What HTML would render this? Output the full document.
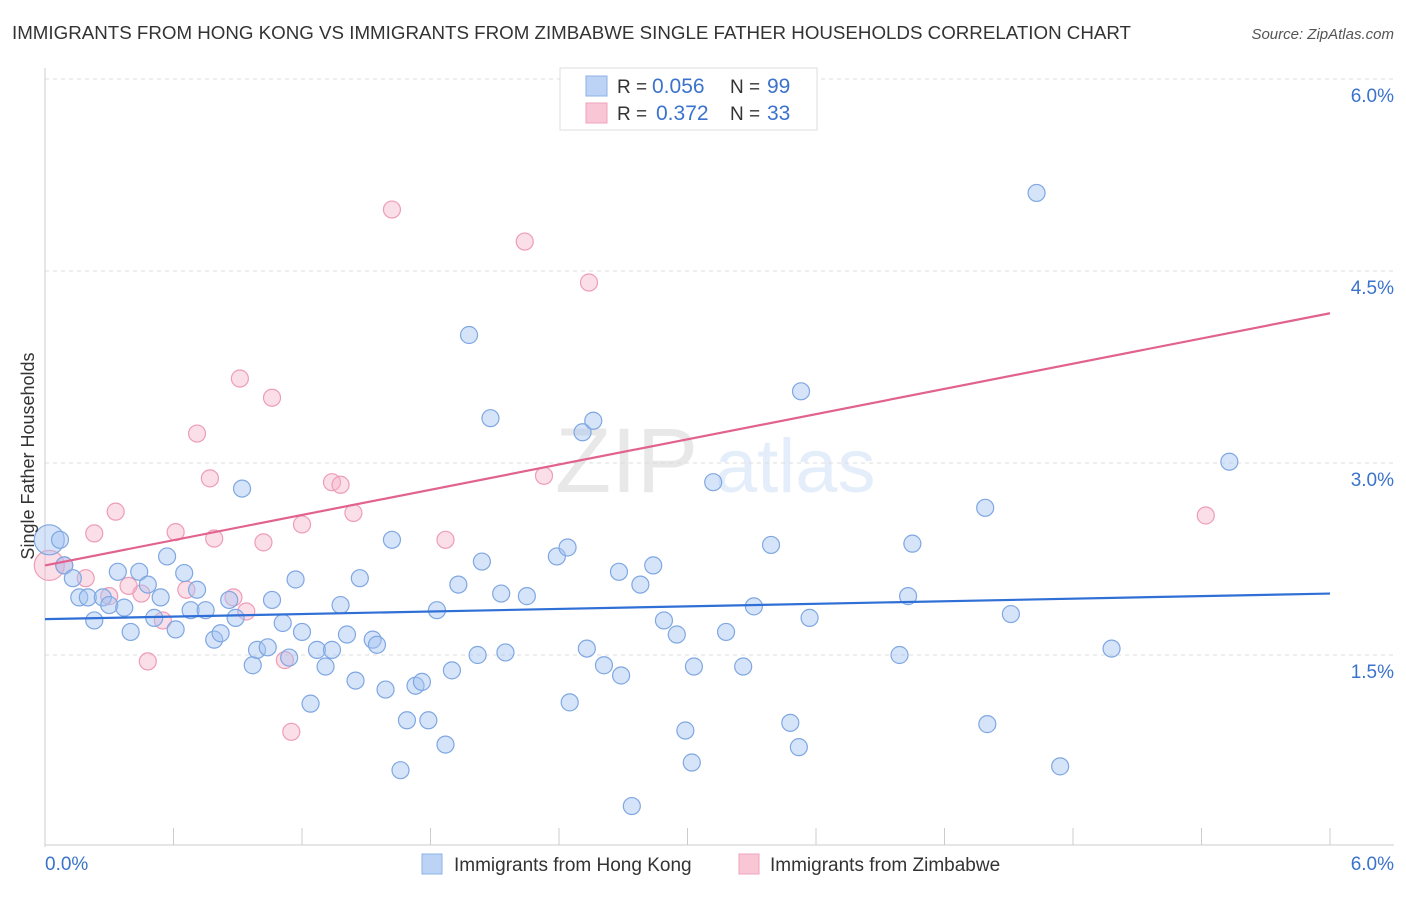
<!DOCTYPE html>
<html><head><meta charset="utf-8"><style>
body{margin:0;background:#fff;font-family:"Liberation Sans",sans-serif;}
svg text{font-family:"Liberation Sans",sans-serif;}
</style></head><body>
<svg id="chart" width="1406" height="892" xmlns="http://www.w3.org/2000/svg">
<text x="12" y="39" font-size="18" fill="#333" textLength="1119" lengthAdjust="spacingAndGlyphs">IMMIGRANTS FROM HONG KONG VS IMMIGRANTS FROM ZIMBABWE SINGLE FATHER HOUSEHOLDS CORRELATION CHART</text>
<text x="1394" y="39" font-size="15" fill="#555" font-style="italic" text-anchor="end">Source: ZipAtlas.com</text>
<g opacity="0.13">
<text x="555" y="492" font-size="92" font-family="Liberation Serif" fill="#555">ZIP</text>
<text x="715" y="492" font-size="76" fill="#3b7ddd">atlas</text>
</g>
<g id="grid"></g>
<g id="axes"></g>
<g id="pts"></g>
<g id="trends"></g>
<g>
<rect x="560" y="68" width="257" height="62" fill="#fff" stroke="#ddd"/>
<rect x="586" y="76" width="21" height="20" fill="#bcd3f5" stroke="#8db0e8"/>
<rect x="586" y="103" width="21" height="20" fill="#f9c6d6" stroke="#f0a3bd"/>
<text x="617" y="93" font-size="19" fill="#333">R =</text>
<text x="652" y="93" font-size="21" fill="#3b73cc">0.056</text>
<text x="730" y="93" font-size="19" fill="#333">N =</text>
<text x="767" y="93" font-size="21" fill="#3b73cc">99</text>
<text x="617" y="120" font-size="19" fill="#333">R =</text>
<text x="656" y="120" font-size="21" fill="#3b73cc">0.372</text>
<text x="730" y="120" font-size="19" fill="#333">N =</text>
<text x="767" y="120" font-size="21" fill="#3b73cc">33</text>
</g>
<g>
<rect x="422" y="854" width="20" height="20" fill="#bcd3f5" stroke="#8db0e8"/>
<text x="454" y="871" font-size="19" fill="#333">Immigrants from Hong Kong</text>
<rect x="739" y="854" width="20" height="20" fill="#f9c6d6" stroke="#f0a3bd"/>
<text x="770" y="871" font-size="19" fill="#333">Immigrants from Zimbabwe</text>
</g>
<text transform="translate(34,456) rotate(-90)" font-size="18" fill="#333" text-anchor="middle">Single Father Households</text>
</svg>
<script>
const yTicks=[1.5,3.0,4.5,6.0];
const yTickLabels=["1.5%","3.0%","4.5%","6.0%"];
const xEndLabels=["0.0%","6.0%"];
const blueX=[.02,.07,.09,.13,.16,.20,.23,.27,.30,.34,.37,.40,.44,.48,.51,.54,.57,.61,.65,.68,.71,.75,.79,.82,.86,.89,.92,.97,.99,1.04,1.06,1.11,1.14,1.17,1.20,1.24,1.27,1.31,1.34,1.38,1.41,1.45,1.47,1.53,1.55,1.59,1.62,1.66,1.69,1.73,1.76,1.79,1.83,1.87,1.90,1.93,1.98,2.02,2.04,2.08,2.13,2.15,2.25,2.39,2.44,2.45,2.51,2.53,2.56,2.61,2.68,2.69,2.74,2.78,2.84,2.89,2.95,2.99,3.02,3.03,3.12,3.18,3.26,3.31,3.39,3.48,3.52,3.53,3.57,3.99,4.03,4.05,4.39,4.40,4.51,4.63,4.74,4.98,5.53];
const blueY=[2.40,2.40,2.20,2.10,1.95,1.95,1.77,1.95,1.89,2.15,1.87,1.68,2.15,2.05,1.79,1.95,2.27,1.70,2.14,1.85,2.01,1.85,1.62,1.67,1.93,1.79,2.80,1.42,1.54,1.56,1.93,1.75,1.48,2.09,1.68,1.12,1.54,1.41,1.54,1.89,1.66,1.30,2.10,1.62,1.58,1.23,2.40,0.60,0.99,1.26,1.29,0.99,1.85,0.80,1.38,2.05,4.00,1.50,2.23,3.35,1.98,1.52,1.96,2.27,2.34,1.13,3.24,1.55,3.33,1.42,2.15,1.34,0.32,2.05,2.20,1.77,1.66,0.91,0.66,1.41,2.85,1.68,1.41,1.88,2.36,0.97,0.78,3.56,1.79,1.50,1.96,2.37,2.65,0.96,1.82,5.11,0.63,1.55,3.01];
const pinkX=[.02,.09,.19,.23,.30,.33,.39,.45,.48,.55,.61,.66,.71,.77,.79,.88,.91,.94,1.02,1.06,1.12,1.15,1.20,1.34,1.38,1.44,1.62,1.87,2.24,2.33,2.54,5.42];
const pinkY=[2.20,2.20,2.10,2.45,1.96,2.62,2.04,1.98,1.45,1.77,2.46,2.01,3.23,2.88,2.41,1.95,3.66,1.84,2.38,3.51,1.46,0.90,2.52,2.85,2.83,2.61,4.98,2.40,4.73,2.90,4.41,2.59];
const blueTrend=[1.78,1.98];
const pinkTrend=[2.20,4.17];
const NS="http://www.w3.org/2000/svg";
const X0=45,X1=1330,Y0=847,PX=128;
const sx=v=>X0+(X1-X0)*v/6;
const sy=v=>Y0-v*PX;
function mk(t,a,p){const e=document.createElementNS(NS,t);for(const k in a)e.setAttribute(k,a[k]);p.appendChild(e);return e;}
const grid=document.getElementById('grid'),axes=document.getElementById('axes'),pts=document.getElementById('pts'),tr=document.getElementById('trends');
yTicks.forEach((t,i)=>{
 const l=mk('line',{x1:X0,x2:1394,y1:sy(t),y2:sy(t),stroke:'#ddd','stroke-dasharray':'4,4'},grid);
 
 
 const tx=mk('text',{x:1394,y:sy(t)+23,'font-size':19,fill:'#3b73cc','text-anchor':'end'},axes);
 tx.textContent=yTickLabels[i];
 
 
});
mk('line',{x1:X0,x2:X0,y1:68,y2:Y0,stroke:'#ccc'},axes);
mk('line',{x1:X0,x2:1394,y1:845,y2:845,stroke:'#ccc'},axes);
for(let i=0;i<=10;i++){mk('line',{x1:sx(i*0.6),x2:sx(i*0.6),y1:828,y2:845,stroke:'#ccc'},axes);}
[[0,'start',X0],[1,'end',1394]].forEach(([i,a,x])=>{const t=mk('text',{x:x,y:870,'font-size':19,fill:'#3b73cc','text-anchor':a},axes);t.textContent=xEndLabels[i];
 
 });
function series(xs,ys,fill,stroke,name){xs.forEach((v,i)=>{const c=mk('circle',{cx:sx(v),cy:sy(ys[i]),r:i==0?15:8.5,fill:fill,stroke:stroke,'stroke-width':1.2},pts);
 
 });}
series(pinkX,pinkY,'rgba(246,175,198,0.4)','#ee9cb7','zimbabwe-point');
series(blueX,blueY,'rgba(165,195,242,0.45)','#7fa7e2','hong-kong-point');
const bl=mk('line',{x1:sx(0),x2:sx(6),y1:sy(blueTrend[0]),y2:sy(blueTrend[1]),stroke:'#2f6fd6','stroke-width':2.2},tr);


const pl=mk('line',{x1:sx(0),x2:sx(6),y1:sy(pinkTrend[0]),y2:sy(pinkTrend[1]),stroke:'#e2628e','stroke-width':2.2},tr);


</script>
</body></html>
